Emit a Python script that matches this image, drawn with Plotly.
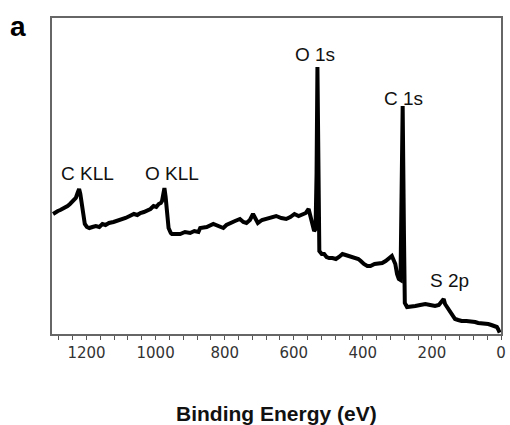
import plotly.graph_objects as go

# Binding energy (eV) and intensity (a.u.)
binding_energy = [
    1297, 1290, 1283, 1276, 1269, 1262, 1255, 1248, 1240, 1235, 1231, 1226, 1221.5, 1218, 1216, 1211.5, 1205,
    1199, 1192, 1183, 1173, 1163, 1154, 1145, 1135, 1122, 1111, 1099, 1087, 1075, 1063, 1053, 1044, 1034,
    1025, 1015, 1006, 998, 991, 985, 981.5, 977, 974.5, 971, 969, 965, 962.5, 956, 952.7,
    940, 929, 915, 900, 888, 876, 871, 852, 833, 818, 804, 795, 785, 770, 756, 746, 737,
    727, 718, 711, 704, 692, 680, 665, 651, 636, 622, 610, 598, 586, 574, 565, 557, 553, 550,
    545, 541, 537, 534, 531.5, 528.5, 526, 519, 512, 505, 497.5, 488, 478, 469, 459, 450,
    440, 430, 421, 413, 406, 401, 397, 387, 378, 366, 354, 344, 334, 325, 316, 311, 306,
    301, 296, 291, 288, 284.7, 281, 278.5, 272, 260, 248, 234, 219, 205, 191, 180, 172,
    166, 162, 155, 148, 140, 133, 124, 114, 100, 85, 75, 66, 52, 37, 28, 18, 12, 8.6, 3.7,
]
intensity = [
    120, 122, 123, 124, 125, 127, 128, 130, 133, 134, 136, 141, 145, 140, 135, 120, 110,
    107, 106, 107, 108, 107, 110, 109, 111, 112, 113, 115, 116, 118, 120, 119, 121, 122,
    123, 125, 128, 127, 130, 131, 133, 139, 146, 137, 130, 116, 106, 101, 100,
    100, 100, 102, 101, 103, 102, 106, 107, 110, 108, 106, 109, 111, 113, 115, 112, 111,
    114, 120, 115, 111, 114, 115, 117, 118, 116, 115, 117, 120, 118, 120, 121, 125, 119, 113,
    106, 103, 105, 160, 267, 160, 83, 80, 80, 77, 76, 76, 75, 77, 80, 79,
    78, 77, 76, 75, 73, 71, 70, 68, 68, 70, 70, 71, 73, 76, 78, 74, 70,
    60, 55, 54, 120, 228, 100, 31, 27, 28, 28, 29, 30, 29, 28, 29, 32,
    35, 30, 26, 23, 19, 15, 14, 13, 13, 13, 12, 11, 11, 10, 9, 8, 7, 5, 1.3,
]

# Peak labels
label_text = ["C KLL", "O KLL", "O 1s", "C 1s", "S 2p"]
label_be = [1198, 952, 538, 282, 150]
label_y = [161, 161, 280, 236, 54]

fig = go.Figure()
fig.add_trace(go.Scatter(
    x=binding_energy, y=intensity, mode="lines",
    line=dict(color="black", width=4), hoverinfo="skip", showlegend=False,
))

for t, bx, by in zip(label_text, label_be, label_y):
    fig.add_annotation(x=bx, y=by, text=t, showarrow=False,
                       font=dict(family="Arial, Liberation Sans", size=19, color="#111111"),
                       xanchor="center", yanchor="middle")

fig.add_annotation(x=-0.0754, y=0.973, xref="paper", yref="paper", text="<b>a</b>",
                   showarrow=False, xanchor="center", yanchor="middle",
                   font=dict(family="Arial, Liberation Sans", size=28, color="black"))

fig.add_annotation(x=0.5, y=-0.252, xref="paper", yref="paper", text="<b>Binding Energy (eV)</b>",
                   showarrow=False, xanchor="center", yanchor="middle",
                   font=dict(family="Arial, Liberation Sans", size=21, color="#111111"))

fig.update_layout(
    width=510, height=425,
    margin=dict(l=52, r=4, t=18, b=91),
    paper_bgcolor="white", plot_bgcolor="white",
    xaxis=dict(
        range=[1300, 0], tickmode="linear", tick0=0, dtick=200,
        ticks="outside", ticklen=4, tickwidth=1, tickcolor="#555555",
        minor=dict(tickmode="linear", tick0=0, dtick=40, ticks="outside", ticklen=4, tickcolor="#555555", tickwidth=1),
        showline=True, linecolor="#666666", linewidth=1.5, mirror=True,
        showgrid=False, zeroline=False,
        tickfont=dict(family="DejaVu Sans", size=15, color="#333333"),
    ),
    yaxis=dict(
        range=[0, 316], showticklabels=False, ticks="",
        showline=True, linecolor="#666666", linewidth=1.5, mirror=True,
        showgrid=False, zeroline=False,
    ),
)

fig.write_html("out.html")
